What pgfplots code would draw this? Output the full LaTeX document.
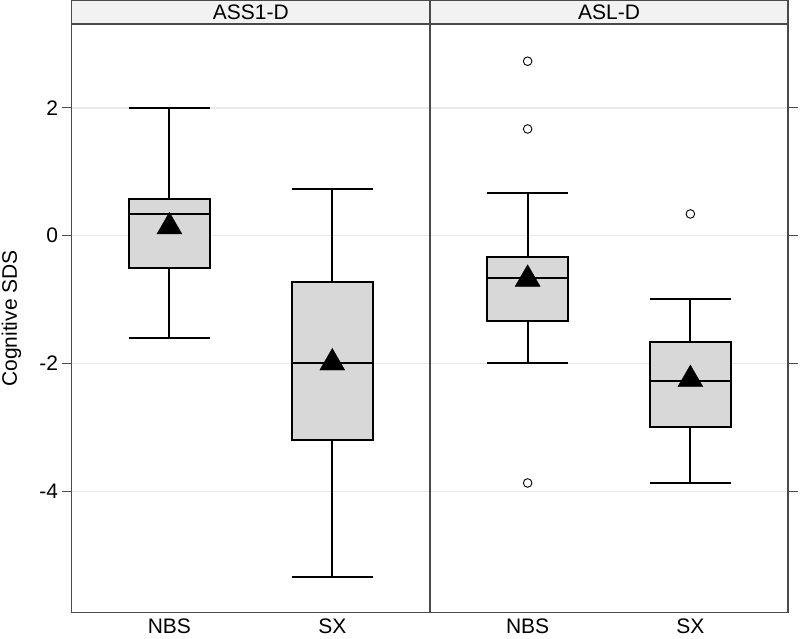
\documentclass[border=0pt]{standalone}
\usepackage{pgfplots}
\pgfplotsset{compat=1.18}
\usepgfplotslibrary{statistics}
\usepackage{fontspec}
\setmainfont{Liberation Sans}
\definecolor{boxfill}{HTML}{D8D8D8}
\definecolor{stripfill}{HTML}{F2F2F2}
\definecolor{framecol}{HTML}{4A4A4A}
\definecolor{gridcol}{HTML}{E8E8E8}
\newcommand{\bigfont}{\fontsize{21}{25}\selectfont}
\begin{document}
\begin{tikzpicture}
\path[use as bounding box] (0pt,0pt) rectangle (800pt,638pt);
\pgfplotsset{
  panel/.style={
    scale only axis,
    height=588.4pt,
    ymin=-5.90, ymax=3.308,
    xmin=0.4, xmax=2.6,
    xtick={1,2}, xticklabels={NBS,SX},
    ytick={-4,-2,0,2},
    ymajorgrids,
    grid style={draw=gridcol, line width=1.3pt},
    axis line style={draw=framecol, line width=1.1pt},
    tick align=outside,
    major tick length=10pt,
    ytick style={draw=framecol, line width=1.1pt},
    xtick style={draw=none},
    font=\bigfont,
    tick label style={font=\bigfont},
    xticklabel style={yshift=7pt},
    boxplot/draw direction=y,
    boxplot/every box/.style={draw=black, fill=boxfill, line width=2pt},
    boxplot/every whisker/.style={draw=black, line width=2pt},
    boxplot/every median/.style={draw=black, line width=2pt},
    every axis title/.style={at={(0.5,1)}, anchor=south, fill=stripfill, draw=framecol,
      line width=1.1pt, minimum width=\pgfkeysvalueof{/pgfplots/width},
      minimum height=23.3pt, inner sep=0pt, font=\bigfont},
  },
  bx/.style={black, solid, line width=2pt, mark=o, mark size=4.3pt,
    mark options={draw=black, line width=0.9pt, fill=none}},
  meanmk/.style={only marks, mark=triangle*, mark size=14.5pt,
    mark options={draw=black, fill=black, line width=0.3pt}},
}
\begin{axis}[panel, width=358.3pt, at={(71.7pt,25.3pt)}, anchor=south west,
  title={ASS1-D},
  ytick pos=left, yticklabels={-4,-2,0,2},
  ylabel={Cognitive SDS},
  ylabel style={at={(axis description cs:-0.168,0.5)}, anchor=center, inner sep=0pt, font=\bigfont}]
\addplot[bx, boxplot prepared={draw position=1, lower whisker=-1.60,
  lower quartile=-0.50, median=0.34, upper quartile=0.57, upper whisker=2.00,
  box extend=0.5, whisker extend=0.5}] coordinates {};
\addplot[bx, boxplot prepared={draw position=2, lower whisker=-5.34,
  lower quartile=-3.20, median=-2.00, upper quartile=-0.73, upper whisker=0.73,
  box extend=0.5, whisker extend=0.5}] coordinates {};
\addplot[meanmk] coordinates {(1,0.14) (2,-1.99)};
\end{axis}
\begin{axis}[panel, width=358pt, at={(430pt,25.3pt)}, anchor=south west,
  title={ASL-D},
  ytick pos=right, yticklabels={}]
\addplot[bx, boxplot prepared={draw position=1, lower whisker=-2.00,
  lower quartile=-1.34, median=-0.66, upper quartile=-0.33, upper whisker=0.67,
  box extend=0.5, whisker extend=0.5}] coordinates {(1,2.73) (1,1.67) (1,-3.87)};
\addplot[bx, boxplot prepared={draw position=2, lower whisker=-3.87,
  lower quartile=-3.00, median=-2.27, upper quartile=-1.67, upper whisker=-0.99,
  box extend=0.5, whisker extend=0.5}] coordinates {(2,0.34)};
\addplot[meanmk] coordinates {(1,-0.68) (2,-2.25)};
\end{axis}
\end{tikzpicture}
\end{document}
